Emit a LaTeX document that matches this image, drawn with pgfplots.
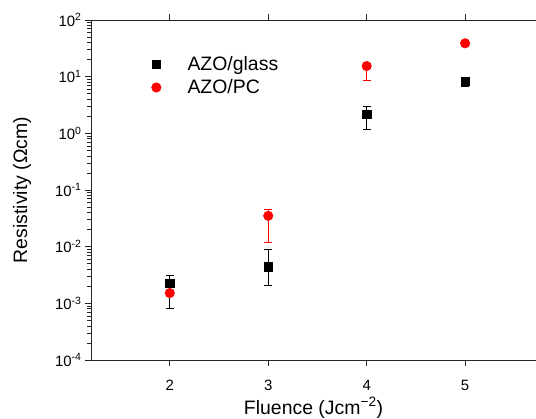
\documentclass[border=0pt]{standalone}
\usepackage{fontspec}
\setmainfont{Liberation Sans}
\usepackage{pgfplots}
\pgfplotsset{compat=1.18}
\begin{document}
\begin{tikzpicture}
\begin{axis}[
  scale only axis, width=445bp, height=340bp,
  ymode=log, xmin=1.2, xmax=5.72, ymin=1e-4, ymax=1e2,
  axis x line*=box, axis y line*=left,
  axis line style={line width=0.9bp, black!85},
  xtick={2,3,4,5},
  xticklabels={2,3,4,5},
  xticklabel style={font=\fontsize{15}{18}\selectfont, yshift=-11bp},
  ytick={1e-4,1e-3,1e-2,1e-1,1e0,1e1,1e2},
  yticklabels={10\textsuperscript{-4},10\textsuperscript{-3},10\textsuperscript{-2},10\textsuperscript{-1},10\textsuperscript{0},10\textsuperscript{1},10\textsuperscript{2}},
  yticklabel style={font=\fontsize{15}{18}\selectfont},
  tick align=outside,
  major tick length=6bp, minor tick length=3.5bp,
  tick style={line width=0.7bp, black!85},
  xlabel={Fluence (Jcm\textsuperscript{−2})},
  ylabel={Resistivity (Ωcm)},
  label style={font=\fontsize{19.5}{23}\selectfont},
  xlabel style={at={(axis description cs:0.5,-0.141)}, anchor=center},
  ylabel style={at={(axis description cs:-0.155,0.5)}, anchor=center},
  legend style={draw=none, fill=none, at={(0.128,0.906)}, anchor=north west,
    font=\fontsize{19.5}{23}\selectfont, row sep=4bp},
  legend cell align=left,
  legend image code/.code={\draw[#1] plot coordinates {(0bp,0bp)}; \path (-5bp,0bp) (29bp,0bp);},
  error bars/error bar style={line width=0.7bp},
  error bars/error mark options={rotate=90, mark size=4bp, line width=0.7bp},
]
\addplot[only marks, mark=square*, mark size=4.2bp, black,
  error bars/.cd, y dir=both, y explicit]
  coordinates {
  (2,2.25e-3) += (0,0.85e-3) -= (0,1.45e-3)
  (3,4.4e-3) += (0,4.5e-3) -= (0,2.3e-3)
  (4,2.2) += (0,0.8) -= (0,1.04)
  (5,8.4) += (0,0.6) -= (0,1.6)
  };
\addlegendentry{AZO/glass}
\addplot[only marks, mark=*, mark size=4.8bp, red,
  error bars/.cd, y dir=both, y explicit]
  coordinates {
  (2,1.52e-3) += (0,0.15e-3) -= (0,0.15e-3)
  (3,3.5e-2) += (0,1.0e-2) -= (0,2.3e-2)
  (4,15.4) += (0,2) -= (0,6.8)
  (5,38.8) += (0,5) -= (0,5)
  };
\addlegendentry{AZO/PC}
\end{axis}
\pgfresetboundingbox
\path ([xshift=-91bp,yshift=-59bp]current axis.south west) rectangle ([yshift=20bp]current axis.north east);
\end{tikzpicture}
\end{document}
